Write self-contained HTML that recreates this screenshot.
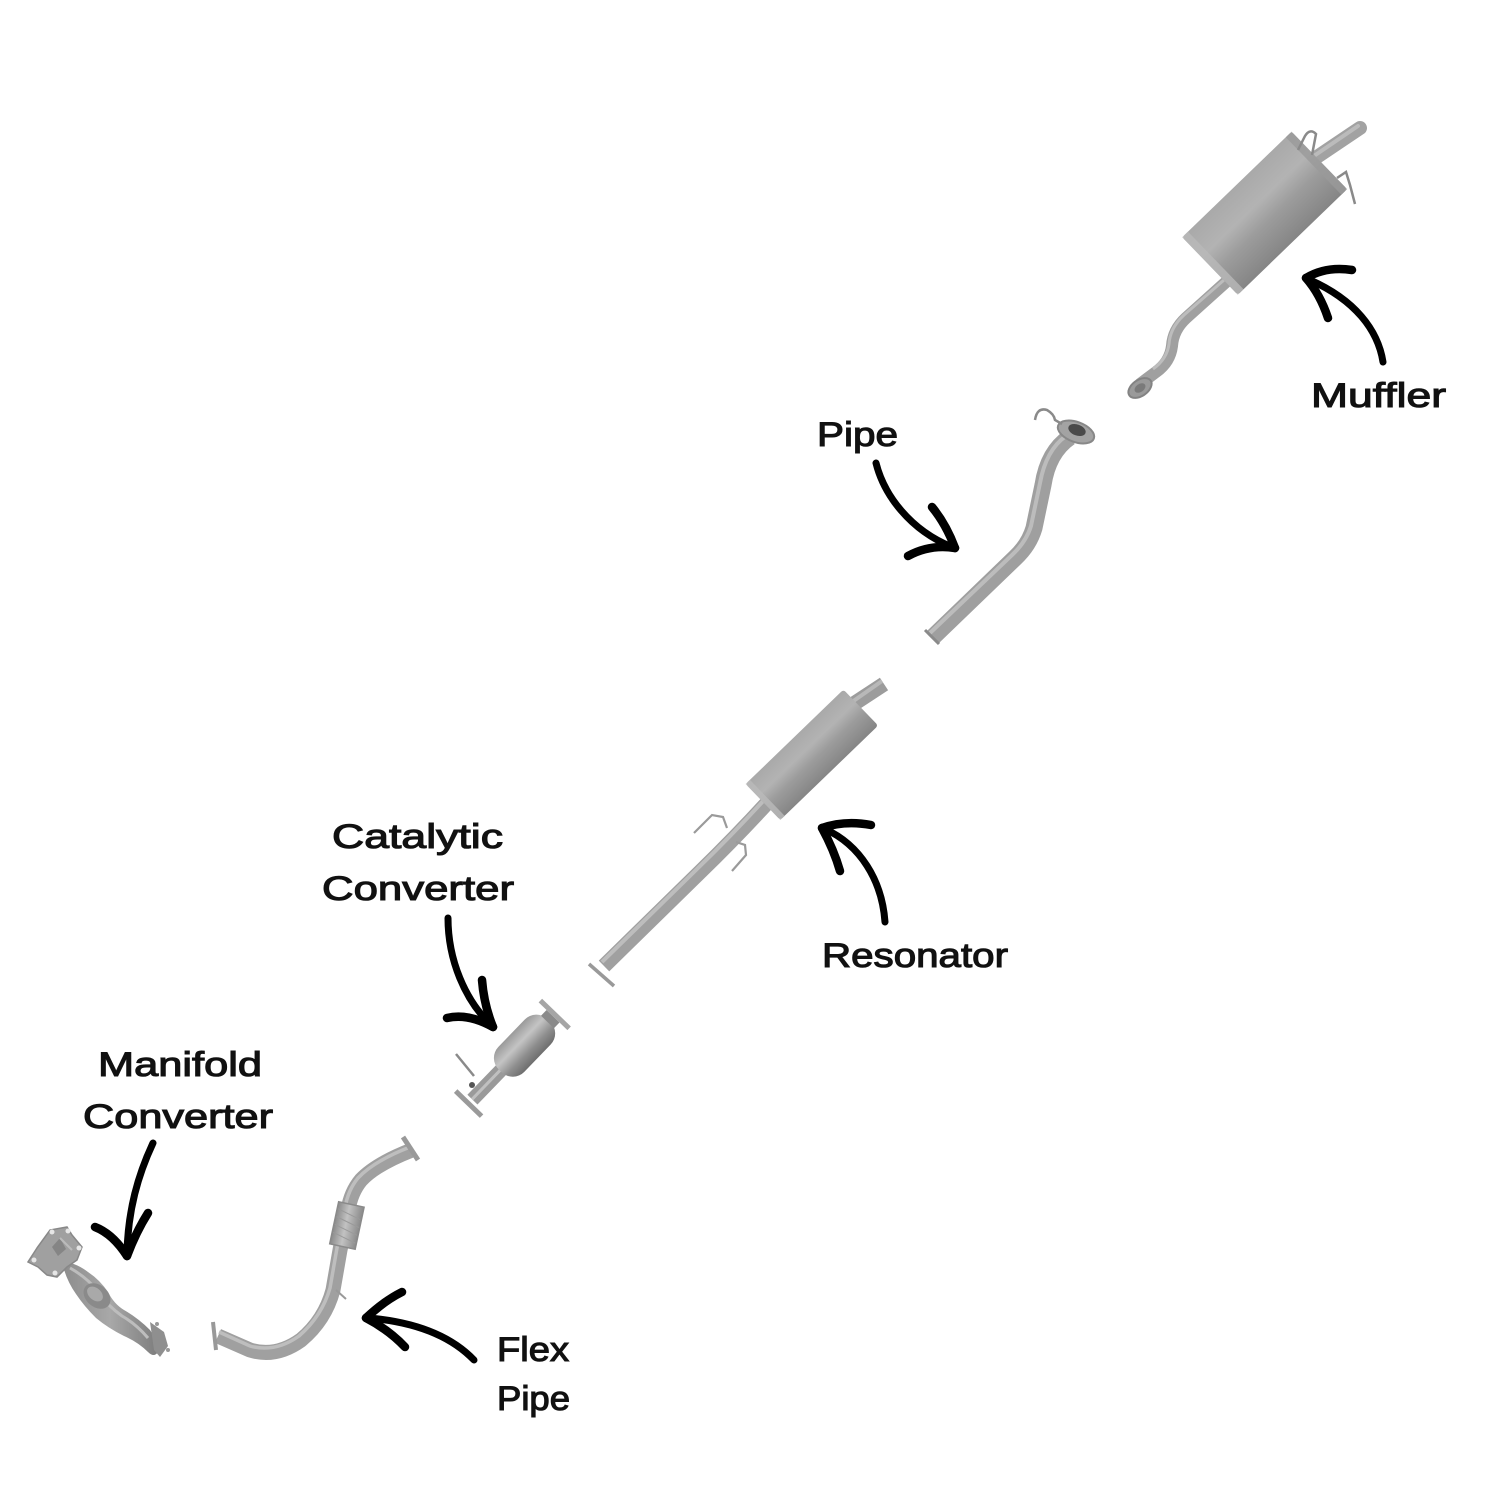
<!DOCTYPE html>
<html>
<head>
<meta charset="utf-8">
<style>
  html,body{margin:0;padding:0;background:#fff;}
  svg{display:block;}
  .lbl{font-family:"Liberation Sans",Arial,sans-serif;font-size:34px;fill:#111;stroke:#111;stroke-width:1.1px;}
  .arr{fill:none;stroke:#000;stroke-linecap:round;stroke-linejoin:round;}
</style>
</head>
<body>
<svg width="1512" height="1512" viewBox="0 0 1512 1512" xmlns="http://www.w3.org/2000/svg">
  <defs>
    <linearGradient id="bodyG" x1="0" y1="0" x2="0" y2="1">
      <stop offset="0" stop-color="#a9a9a9"/>
      <stop offset="0.35" stop-color="#b3b3b3"/>
      <stop offset="0.6" stop-color="#9c9c9c"/>
      <stop offset="1" stop-color="#858585"/>
    </linearGradient>
    <linearGradient id="catG" x1="0" y1="0" x2="0" y2="1">
      <stop offset="0" stop-color="#9a9a9a"/>
      <stop offset="0.35" stop-color="#c4c4c4"/>
      <stop offset="0.7" stop-color="#8e8e8e"/>
      <stop offset="1" stop-color="#6e6e6e"/>
    </linearGradient>
    <linearGradient id="flexG" x1="0" y1="0" x2="1" y2="0">
      <stop offset="0" stop-color="#8a8a8a"/>
      <stop offset="0.45" stop-color="#c2c2c2"/>
      <stop offset="1" stop-color="#8a8a8a"/>
    </linearGradient>
    <linearGradient id="manG" x1="0" y1="0" x2="1" y2="0">
      <stop offset="0" stop-color="#8c8c8c"/>
      <stop offset="0.5" stop-color="#a8a8a8"/>
      <stop offset="1" stop-color="#7d7d7d"/>
    </linearGradient>
  </defs>

  <rect width="1512" height="1512" fill="#fff"/>

  <!-- ================= MUFFLER ================= -->
  <path d="M1308,163 L1360,128" stroke="#a2a2a2" stroke-width="14" stroke-linecap="round" fill="none"/>
  <path d="M1308,160 L1358,126" stroke="#bbbbbb" stroke-width="4" stroke-linecap="round" fill="none"/>
  <path d="M1226,282 L1186,318 Q1173,330 1172,346 Q1170,362 1156,372 L1140,384" stroke="#a0a0a0" stroke-width="12" stroke-linecap="round" stroke-linejoin="round" fill="none"/>
  <path d="M1224,280 L1184,315 Q1170,328 1169,344 Q1167,359 1153,369" stroke="#bdbdbd" stroke-width="3" fill="none"/>
  <ellipse cx="1140" cy="388" rx="13" ry="8" transform="rotate(-35 1140 388)" fill="#9a9a9a" stroke="#838383" stroke-width="2"/>
  <ellipse cx="1140" cy="388" rx="6" ry="4" transform="rotate(-35 1140 388)" fill="#7a7a7a"/>
  <g transform="translate(1210,266) rotate(-44)">
    <rect x="0" y="-40" width="152" height="80" rx="3" fill="url(#bodyG)"/>
    <rect x="0" y="-40" width="8" height="80" fill="#b9b9b9" opacity="0.8"/>
    <rect x="144" y="-40" width="8" height="80" fill="#9a9a9a" opacity="0.8"/>
  </g>
  <path d="M1298,150 L1305,136 Q1310,128 1316,134 L1312,155" stroke="#8a8a8a" stroke-width="2.5" fill="none"/>
  <path d="M1337,178 L1346,172 L1350,185 L1355,204" stroke="#8a8a8a" stroke-width="2.5" fill="none"/>

  <!-- ================= PIPE (middle) ================= -->
  <path d="M1070,437 Q1048,452 1043,485 L1034,528 Q1029,545 1015,558 L933,637" stroke="#9f9f9f" stroke-width="17" stroke-linecap="butt" stroke-linejoin="round" fill="none"/>
  <path d="M1066,436 Q1046,450 1040,483 L1031,526 Q1026,542 1012,555 L930,633" stroke="#bcbcbc" stroke-width="4" fill="none"/>
  <path d="M925,630 L939,644" stroke="#8a8a8a" stroke-width="3"/>
  <ellipse cx="1076" cy="432" rx="19" ry="10" transform="rotate(20 1076 432)" fill="#a3a3a3" stroke="#888" stroke-width="2"/>
  <ellipse cx="1077" cy="430" rx="9" ry="5.5" transform="rotate(20 1077 430)" fill="#4a4a4a"/>
  <path d="M1035,420 Q1037,407 1047,410 Q1054,414 1055,420 L1062,424" stroke="#8a8a8a" stroke-width="2.5" fill="none"/>

  <!-- ================= RESONATOR ================= -->
  <path d="M852,705 L884,684" stroke="#9c9c9c" stroke-width="15" stroke-linecap="butt" fill="none"/>
  <path d="M852,702 L882,681" stroke="#b8b8b8" stroke-width="4" fill="none"/>
  <path d="M768,802 Q735,838 700,872 L604,966" stroke="#a0a0a0" stroke-width="15" stroke-linecap="butt" fill="none"/>
  <path d="M765,799 Q732,835 697,869 L602,962" stroke="#bdbdbd" stroke-width="4" fill="none"/>
  <path d="M589,964 L614,986" stroke="#999" stroke-width="3.5"/>
  <g transform="translate(763,802) rotate(-44)">
    <rect x="0" y="-25" width="136" height="50" rx="3" fill="url(#bodyG)"/>
    <rect x="0" y="-25" width="6" height="50" fill="#bababa" opacity="0.8"/>
  </g>
  <path d="M694,833 L712,815 L723,817 L727,828" stroke="#9a9a9a" stroke-width="2.2" fill="none"/>
  <path d="M732,871 L746,855 L745,845 L736,842" stroke="#9a9a9a" stroke-width="2.2" fill="none"/>

  <!-- ================= CATALYTIC CONVERTER ================= -->
  <g transform="translate(503,1068) rotate(-46)">
    <rect x="-44" y="-7" width="46" height="14" fill="#9a9a9a"/>
    <rect x="-44" y="-2" width="46" height="3" fill="#c0c0c0"/>
    <rect x="-52" y="-18" width="5" height="36" fill="#9a9a9a"/>
    <rect x="-4" y="-18" width="70" height="36" rx="16" fill="url(#catG)"/>
    <rect x="64" y="-9" width="8" height="18" fill="#8a8a8a"/>
    <rect x="72" y="-20" width="5" height="40" fill="#a5a5a5"/>
  </g>
  <path d="M456,1054 L474,1076" stroke="#8a8a8a" stroke-width="2.5"/>
  <circle cx="472" cy="1085" r="3" fill="#555"/>

  <!-- ================= FLEX PIPE ================= -->
  <path d="M412,1150 Q376,1164 361,1180 Q351,1192 348,1210 L340,1250 L333,1290 Q325,1320 301,1340 Q276,1358 250,1350 L218,1336" stroke="#a0a0a0" stroke-width="15" stroke-linecap="butt" stroke-linejoin="round" fill="none"/>
  <path d="M410,1147 Q374,1161 358,1178 Q348,1190 345,1208 L337,1248 L330,1288 Q322,1316 299,1336 Q275,1353 250,1346 L219,1332" stroke="#bebebe" stroke-width="3.5" fill="none"/>
  <g transform="translate(347,1225) rotate(12)">
    <rect x="-13" y="-21" width="26" height="43" fill="url(#flexG)"/>
    <rect x="-13" y="-21" width="26" height="43" fill="none" stroke="#8a8a8a" stroke-width="1.5"/>
    <path d="M-12,-14 L12,-8 M-12,-6 L12,0 M-12,2 L12,8 M-12,10 L12,16" stroke="#9a9a9a" stroke-width="1"/>
  </g>
  <path d="M403,1137 L418,1160" stroke="#999" stroke-width="5"/>
  <path d="M213,1322 L216,1350" stroke="#999" stroke-width="4"/>
  <path d="M336,1290 L346,1299" stroke="#999" stroke-width="2"/>

  <!-- ================= MANIFOLD CONVERTER ================= -->
  <!-- body casting -->
  <path d="M62,1262 Q75,1262 88,1272 Q100,1280 108,1292 Q114,1304 124,1310 Q138,1318 150,1330 Q158,1342 158,1352 Q154,1358 148,1352 Q138,1342 124,1336 Q108,1328 96,1318 Q84,1306 76,1294 Q66,1280 62,1262 Z" fill="url(#manG)"/>
  <path d="M70,1268 Q88,1278 100,1294 Q108,1306 122,1316 Q136,1324 148,1338" stroke="#bdbdbd" stroke-width="3" fill="none"/>
  <ellipse cx="97" cy="1296" rx="15" ry="11" transform="rotate(40 97 1296)" fill="#8a8a8a"/>
  <ellipse cx="95" cy="1294" rx="9" ry="6" transform="rotate(40 95 1294)" fill="#a9a9a9"/>
  <!-- plate -->
  <path d="M37,1248 L50,1230 L67,1227 L72,1235 L82,1247 L77,1260 L67,1267 L57,1277 L47,1275 L38,1267 L28,1262 Z" fill="#a0a0a0" stroke="#888" stroke-width="1.5"/>
  <path d="M52,1247 L60,1238 L66,1249 L58,1256 Z" fill="#858585"/>
  <path d="M60,1238 L72,1250" stroke="#bbb" stroke-width="2"/>
  <circle cx="34" cy="1260" r="2.5" fill="#e6e6e6"/>
  <circle cx="52" cy="1232" r="2.5" fill="#e6e6e6"/>
  <circle cx="68" cy="1231" r="2.5" fill="#e6e6e6"/>
  <circle cx="79" cy="1248" r="2.5" fill="#e6e6e6"/>
  <circle cx="55" cy="1273" r="2.5" fill="#e6e6e6"/>
  <!-- outlet flange -->
  <path d="M150,1322 L164,1332 L168,1346 L160,1357 L154,1350 Z" fill="#8f8f8f"/>
  <circle cx="157" cy="1324" r="2" fill="#999"/>
  <circle cx="168" cy="1350" r="2" fill="#999"/>

  <!-- ================= ARROWS ================= -->
  <path class="arr" d="M1383,362 C1378,330 1355,300 1310,280" stroke-width="7"/>
  <path class="arr" d="M1306,278 Q1326,266 1352,270" stroke-width="8.5"/>
  <path class="arr" d="M1306,278 Q1320,294 1328,318" stroke-width="8.5"/>

  <path class="arr" d="M876,463 C884,495 910,530 952,547" stroke-width="7"/>
  <path class="arr" d="M955,548 Q946,524 932,507" stroke-width="8.5"/>
  <path class="arr" d="M955,548 Q930,544 908,556" stroke-width="8.5"/>

  <path class="arr" d="M885,922 C882,880 860,845 825,829" stroke-width="7"/>
  <path class="arr" d="M822,828 Q845,820 871,825" stroke-width="8.5"/>
  <path class="arr" d="M822,828 Q834,850 840,871" stroke-width="8.5"/>

  <path class="arr" d="M448,918 C448,960 465,1000 491,1025" stroke-width="7"/>
  <path class="arr" d="M493,1027 Q484,1005 482,980" stroke-width="8.5"/>
  <path class="arr" d="M493,1027 Q468,1013 447,1018" stroke-width="8.5"/>

  <path class="arr" d="M153,1143 C138,1175 128,1210 127,1253" stroke-width="7"/>
  <path class="arr" d="M127,1256 Q113,1234 95,1227" stroke-width="8.5"/>
  <path class="arr" d="M127,1256 Q136,1232 148,1213" stroke-width="8.5"/>

  <path class="arr" d="M474,1360 C450,1335 415,1322 369,1318" stroke-width="7"/>
  <path class="arr" d="M366,1318 Q384,1301 402,1292" stroke-width="8.5"/>
  <path class="arr" d="M366,1318 Q389,1330 405,1347" stroke-width="8.5"/>

  <!-- ================= LABELS ================= -->
  <text class="lbl" x="1311" y="407" textLength="135" lengthAdjust="spacingAndGlyphs">Muffler</text>
  <text class="lbl" x="817" y="446" textLength="81" lengthAdjust="spacingAndGlyphs">Pipe</text>
  <text class="lbl" x="332" y="848" textLength="171" lengthAdjust="spacingAndGlyphs">Catalytic</text>
  <text class="lbl" x="322" y="900" textLength="192" lengthAdjust="spacingAndGlyphs">Converter</text>
  <text class="lbl" x="822" y="967" textLength="186" lengthAdjust="spacingAndGlyphs">Resonator</text>
  <text class="lbl" x="98" y="1076" textLength="164" lengthAdjust="spacingAndGlyphs">Manifold</text>
  <text class="lbl" x="83" y="1128" textLength="190" lengthAdjust="spacingAndGlyphs">Converter</text>
  <text class="lbl" x="497" y="1361" textLength="72" lengthAdjust="spacingAndGlyphs">Flex</text>
  <text class="lbl" x="497" y="1410" textLength="73" lengthAdjust="spacingAndGlyphs">Pipe</text>
</svg>
</body>
</html>
